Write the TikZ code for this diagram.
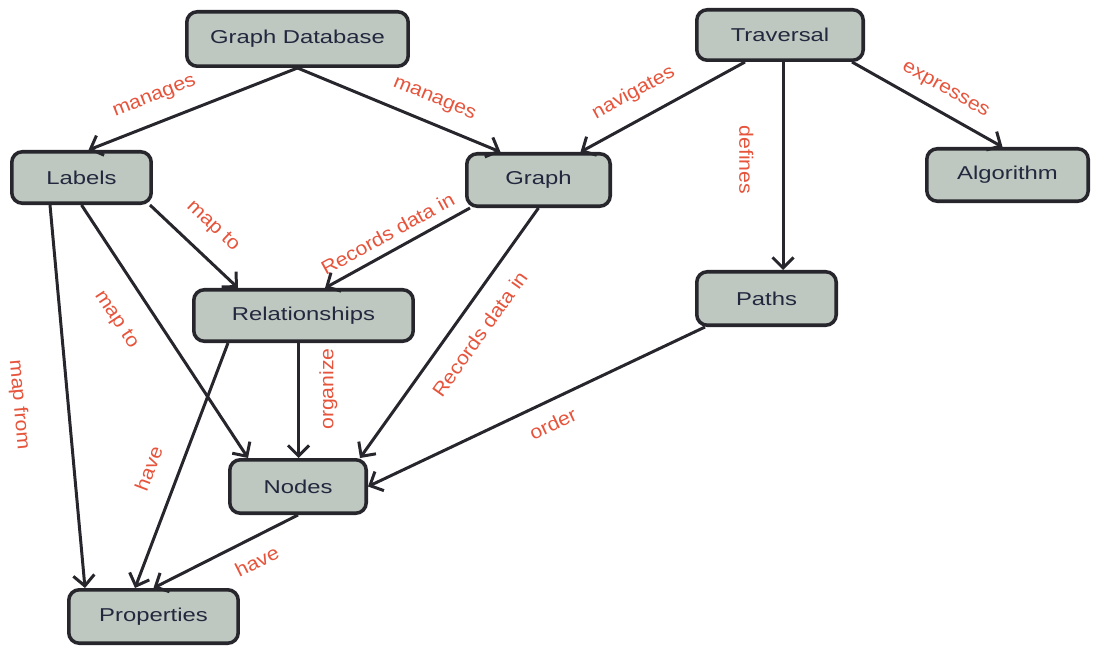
\documentclass[tikz,border=0pt]{standalone}
\usepackage{fontspec}
\setmainfont{Liberation Sans}
\newfontfamily\boxfont{Liberation Sans}[FakeStretch=1.28]
\newfontfamily\lblfont{Liberation Sans}[FakeStretch=1.1]
\usetikzlibrary{arrows.meta,calc}
\definecolor{Cfill}{RGB}{190,199,192}
\definecolor{Cborder}{RGB}{38,38,44}
\definecolor{Ctext}{RGB}{36,40,62}
\definecolor{Clabel}{RGB}{230,84,60}

\begin{document}
\begin{tikzpicture}[x=0.02cm, y=-0.02cm,
      concept/.style={draw=Cborder, fill=Cfill, line width=2pt,
                      rounded corners=6pt, text=Ctext,
                      font=\boxfont\fontsize{10.6}{12}\selectfont},
      link/.style={draw=Cborder, line width=1.7pt, ->},
      >={Straight Barb[length=6pt,width=12pt]},
      rot/.style={font=\lblfont\fontsize{11}{12}\selectfont,
                  text=Clabel, sloped, inner sep=0pt}]
    \useasboundingbox (0,0) rectangle (1094,648);
    % Concepts
    \node[concept, minimum width=4.43cm, minimum height=1.09cm] (gdb) at (297.5,39)  {Graph Database};
    \node[concept, minimum width=3.33cm, minimum height=1.01cm] (trv) at (780,35)    {Traversal};
    \node[concept, minimum width=2.79cm, minimum height=1.03cm] (lab) at (81.5,177.5) {Labels};
    \node[concept, minimum width=2.87cm, minimum height=1.05cm] (gra) at (538.5,180) {Graph};
    \node[concept, minimum width=3.23cm, minimum height=1.05cm] (alg) at (1007.5,175) {Algorithm};
    \node[concept, minimum width=4.39cm, minimum height=1.03cm] (rel) at (303.5,315.5) {Relationships};
    \node[concept, minimum width=2.79cm, minimum height=1.07cm] (pth) at (766.5,298.5) {Paths};
    \node[concept, minimum width=2.73cm, minimum height=1.07cm] (nod) at (298,486.5) {Nodes};
    \node[concept, minimum width=3.39cm, minimum height=1.07cm] (prp) at (153.5,616.5) {Properties};
    \coordinate (def) at ($(pth.north)+(16.5,0)$);
    \coordinate (org) at ($(nod.north)+(0.5,0)$);
    % Graph Database
    \draw[link] (gdb.south) -- ($(lab.north)+(7,0)$)
      node[rot, pos=0.64, above=9pt] {manages};
    \draw[link] (gdb.south) -- ($(gra.north)+(-38,0)$)
      node[rot, pos=0.63, above=8pt] {manages};
    % Traversal
    \draw[link] ($(trv.south)+(-35,0)$) -- ($(gra.north)+(42,0)$)
      node[rot, pos=0.6, above=9pt] {navigates};
    \draw[link] (def |- trv.south) -- (def)
      node[rot, pos=0.47, below=16pt] {defines};
    \draw[link] ($(trv.south)+(72,0)$) -- ($(alg.north)+(-5,0)$)
      node[rot, pos=0.55, above=7pt] {expresses};
    % Labels
    \draw[link] ($(lab.south east)+(-3,0)$) -- ($(rel.north)+(-65.5,0)$)
      node[rot, pos=0.5, above=10pt] {map to};
    \draw[link] (lab.south) -- ($(nod.north)+(-50,0)$)
      node[rot, pos=0.38, below=14pt] {map to};
    \draw[link] ($(lab.south)+(-31.5,0)$) -- ($(prp.north)+(-68.5,0)$)
      node[rot, pos=0.51, below=22pt] {map from};
    % Graph
    \draw[link] ($(gra.south)+(-68.5,0)$) -- ($(rel.north)+(21.5,0)$)
      node[rot, pos=0.51, above=5pt] {Records data in};
    \draw[link] (gra.south) -- ($(nod.north)+(62,0)$)
      node[rot, pos=0.445, below=9.5pt] {Records data in};
    % Relationships
    \draw[link, <-] (org) -- (org |- rel.south)
      node[rot, pos=0.6, below=11pt] {organize};
    \draw[link] ($(rel.south)+(-75.5,0)$) -- ($(prp.north)+(-18.5,0)$)
      node[rot, pos=0.555, above=12pt] {have};
    % Nodes, Paths
    \draw[link] (nod.south) -- (prp.north)
      node[rot, pos=0.355, below=8pt] {have};
    \draw[link] ($(pth.south west)+(10,0)$) -- (nod.east)
      node[rot, pos=0.48, below=8pt] {order};
  \end{tikzpicture}
\end{document}
